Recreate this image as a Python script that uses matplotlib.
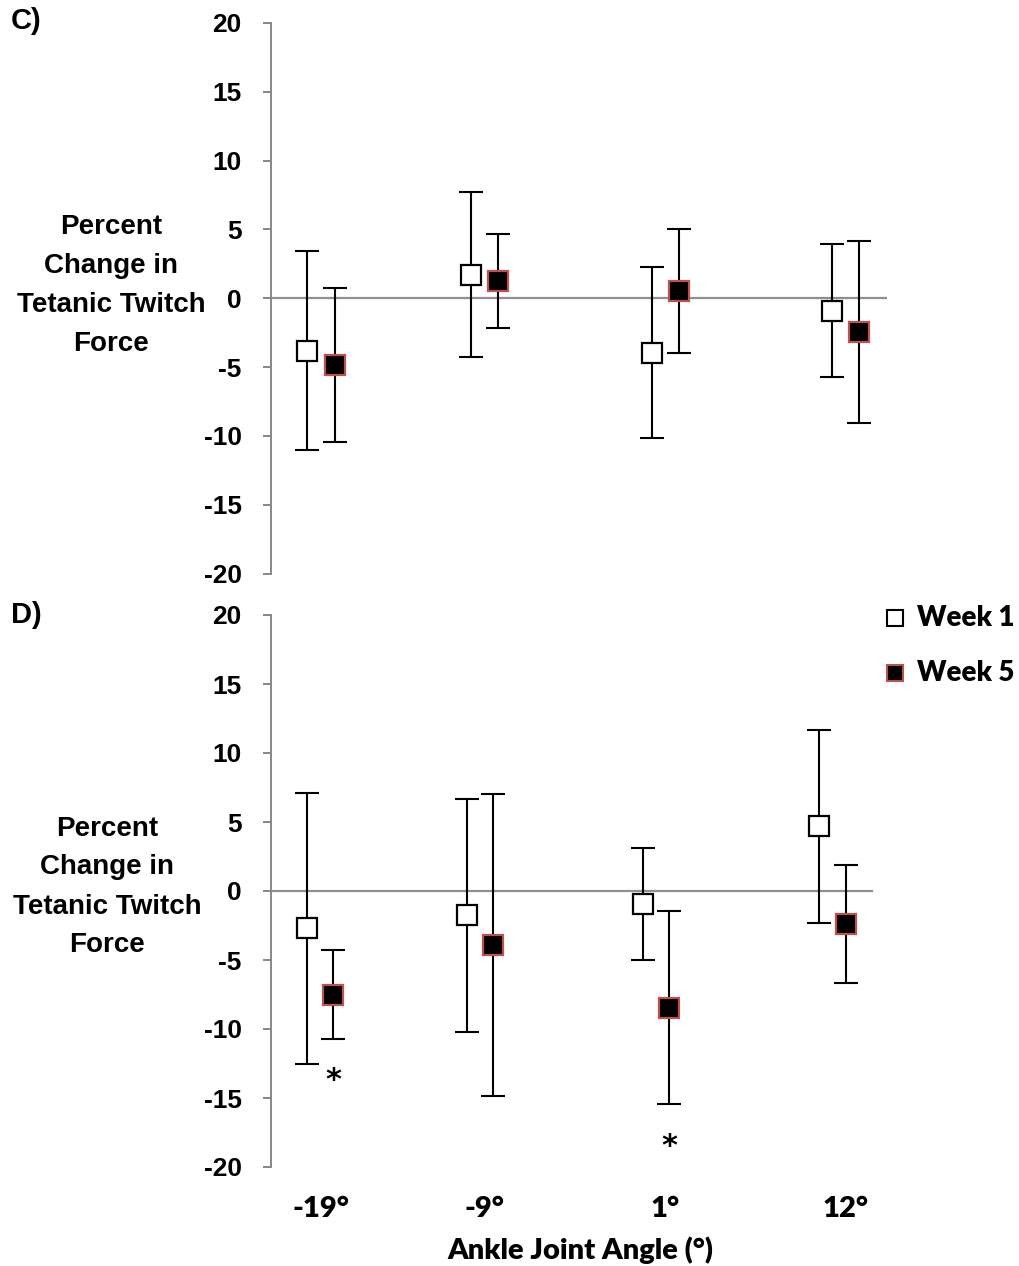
import numpy as np
import matplotlib
matplotlib.use("Agg")
import matplotlib.pyplot as plt
from matplotlib.lines import Line2D
from matplotlib.transforms import blended_transform_factory

# ---- data -------------------------------------------------------------
angles = ["-19°", "-9°", "1°", "12°"]

# Panel C: percent change in tetanic twitch force (mean, SD)
c_week1_mean = [-3.8, 1.7, -3.95, -0.9]
c_week1_err = [7.25, 6.0, 6.2, 4.85]
c_week5_mean = [-4.85, 1.27, 0.55, -2.45]
c_week5_err = [5.6, 3.42, 4.5, 6.6]

# Panel D
d_week1_mean = [-2.7, -1.75, -0.95, 4.7]
d_week1_err = [9.8, 8.45, 4.05, 7.0]
d_week5_mean = [-7.5, -3.93, -8.45, -2.38]
d_week5_err = [3.2, 10.95, 7.0, 4.26]
d_week5_sig = [True, False, True, False]

series_labels = ["Week 1", "Week 5"]
y_ticks = [-20, -15, -10, -5, 0, 5, 10, 15, 20]

# ---- layout / style ---------------------------------------------------
W, H = 1020, 1266
group_pos = np.array([0.0, 1.0, 2.1, 3.2])
pair_offset = 0.083
xlim = (-0.305, 3.454)

AX_GREY = "#878787"
ZERO_GREY = "#8f8f8f"
RED_EDGE = "#c0504d"
SANS = "Liberation Sans"
NARROW = "Lato"

fig = plt.figure(figsize=(W / 100, H / 100), dpi=100)


def px_box(left, right, top, bottom):
    return [left / W, 1 - bottom / H, (right - left) / W, (bottom - top) / H]


def style_axes(ax):
    ax.set_xlim(*xlim)
    ax.set_ylim(-20, 20)
    for side in ("top", "right", "bottom"):
        ax.spines[side].set_visible(False)
    ax.spines["left"].set_color(AX_GREY)
    ax.spines["left"].set_linewidth(1.4)
    ax.set_yticks(y_ticks)
    ax.set_yticklabels([str(t) for t in y_ticks], fontfamily=SANS,
                       fontweight="bold", fontsize=19)
    ax.tick_params(axis="y", direction="out", length=6, width=1.4,
                   color=AX_GREY, pad=15)
    ax.set_xticks([])
    ax.axhline(0, color=ZERO_GREY, lw=1.6, zorder=1)
    ax.patch.set_alpha(0)


def draw_pairs(ax, m1, e1, m5, e5):
    x1 = group_pos - pair_offset
    x5 = group_pos + pair_offset
    common = dict(fmt="none", ecolor="black", elinewidth=1.5,
                  capsize=8.5, capthick=1.5, zorder=2)
    ax.errorbar(x1, m1, yerr=e1, **common)
    ax.errorbar(x5, m5, yerr=e5, **common)
    ax.plot(x1, m1, ls="none", marker="s", ms=14.2, mfc="white",
            mec="black", mew=1.6, zorder=3, label=series_labels[0])
    ax.plot(x5, m5, ls="none", marker="s", ms=14.2, mfc="black",
            mec=RED_EDGE, mew=1.6, zorder=3, label=series_labels[1])
    return x1, x5


def ylabel_block(cx, cy):
    lines = ["Percent", "Change in", "Tetanic Twitch", "Force"]
    step = 39
    start = cy - step * (len(lines) - 1) / 2
    for i, line in enumerate(lines):
        fig.text(cx / W, 1 - (start + i * step) / H, line, ha="center",
                 va="center", fontfamily=SANS, fontweight="bold",
                 fontsize=20)


# ---- panel C ----------------------------------------------------------
ax_c = fig.add_axes(px_box(271, 887, 23, 573.6))
style_axes(ax_c)
draw_pairs(ax_c, c_week1_mean, c_week1_err, c_week5_mean, c_week5_err)
ylabel_block(111, 285.5)
fig.text(26 / W, 1 - 21 / H, "C)", ha="center", va="center",
         fontfamily=SANS, fontweight="bold", fontsize=21)

# ---- panel D ----------------------------------------------------------
ax_d = fig.add_axes(px_box(271, 873, 615, 1167))
style_axes(ax_d)
x1_d, x5_d = draw_pairs(ax_d, d_week1_mean, d_week1_err,
                        d_week5_mean, d_week5_err)
ylabel_block(107, 887)
fig.text(26 / W, 1 - 615 / H, "D)", ha="center", va="center",
         fontfamily=SANS, fontweight="bold", fontsize=21)

# significance markers below the Week 5 error bars
for xs, m, e, sig in zip(x5_d, d_week5_mean, d_week5_err, d_week5_sig):
    if sig:
        ax_d.annotate("*", xy=(xs, m - e - 2.4), xytext=(0, -12.5),
                      textcoords="offset points", ha="center",
                      va="baseline", fontfamily="DejaVu Sans",
                      fontweight="bold", fontsize=22)

# shared category labels: columns of the (wider) panel C frame,
# placed below panel D
label_tf = blended_transform_factory(ax_c.transData, ax_d.transAxes)
for gx, lab in zip(group_pos, angles):
    ax_d.annotate(lab, xy=(gx, 0), xycoords=label_tf,
                  xytext=(0, -30), textcoords="offset points", ha="center",
                  va="center", fontfamily=NARROW, fontweight="heavy",
                  fontsize=21)

fig.text(580 / W, 1 - 1250 / H, "Ankle Joint Angle (°)", ha="center",
         va="center", fontfamily=NARROW, fontweight="heavy", fontsize=21)

# ---- legend -----------------------------------------------------------
legend_rows = [(618, "white", "black"), (673, "black", RED_EDGE)]
for (ly, fc, ec), lab in zip(legend_rows, series_labels):
    fig.add_artist(Line2D([895 / W], [1 - ly / H], transform=fig.transFigure,
                          ls="none", marker="s", ms=11, mfc=fc, mec=ec,
                          mew=1.5))
    fig.text(917 / W, 1 - ly / H, lab, ha="left", va="center",
             fontfamily=NARROW, fontweight="heavy", fontsize=20)

fig.savefig("out.png", dpi=100, facecolor="white")
